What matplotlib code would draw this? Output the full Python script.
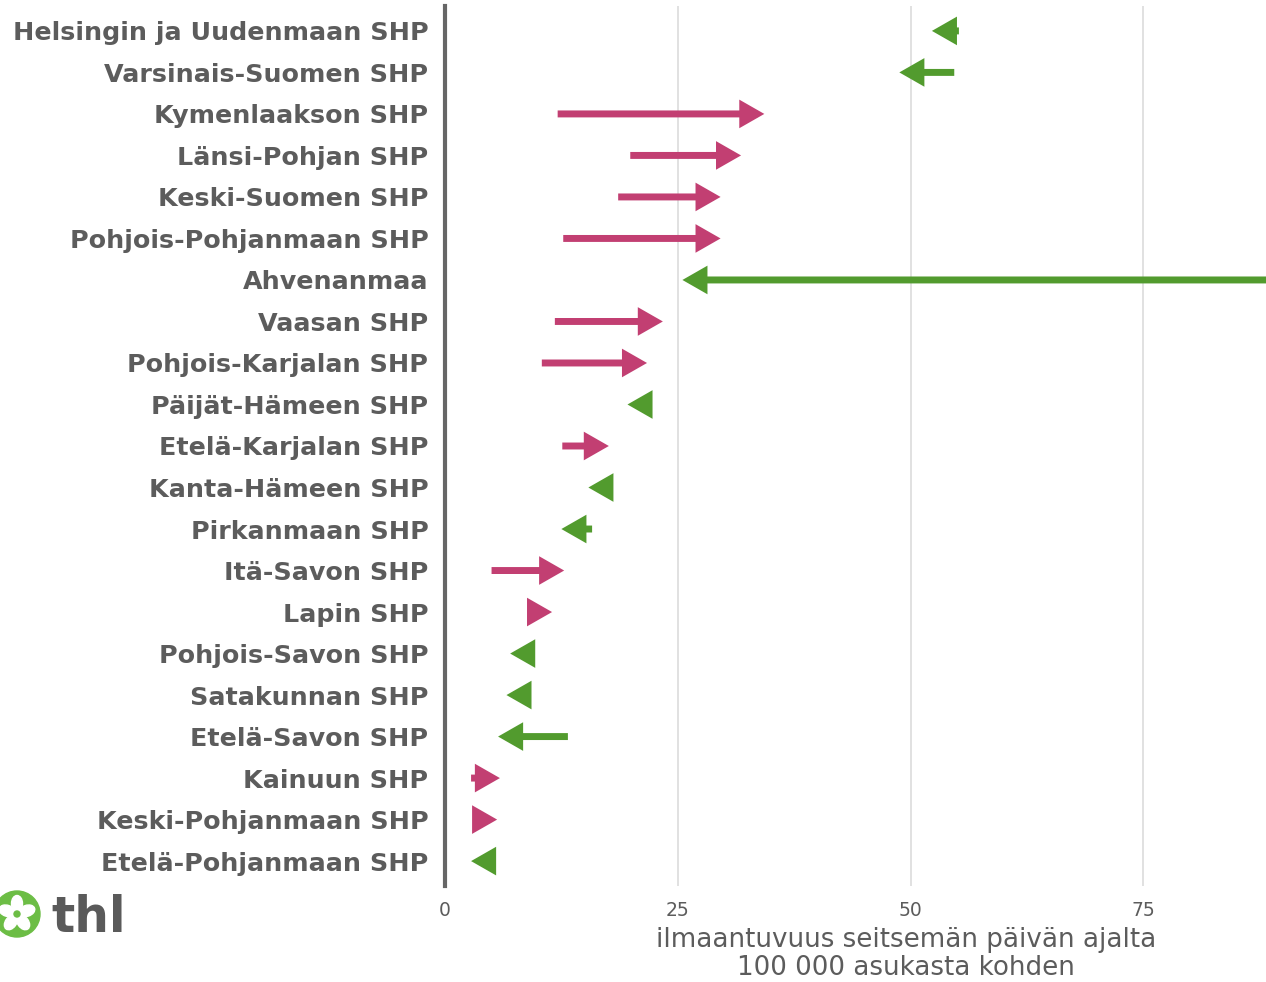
import matplotlib
matplotlib.use("Agg")
import matplotlib.pyplot as plt
from matplotlib.patches import FancyArrowPatch, Circle, Ellipse
import numpy as np

regions = [
    "Helsingin ja Uudenmaan SHP", "Varsinais-Suomen SHP", "Kymenlaakson SHP",
    "Länsi-Pohjan SHP", "Keski-Suomen SHP", "Pohjois-Pohjanmaan SHP",
    "Ahvenanmaa", "Vaasan SHP", "Pohjois-Karjalan SHP", "Päijät-Hämeen SHP",
    "Etelä-Karjalan SHP", "Kanta-Hämeen SHP", "Pirkanmaan SHP", "Itä-Savon SHP",
    "Lapin SHP", "Pohjois-Savon SHP", "Satakunnan SHP", "Etelä-Savon SHP",
    "Kainuun SHP", "Keski-Pohjanmaan SHP", "Etelä-Pohjanmaan SHP",
]
previous_week = [55.2, 54.7, 12.1, 19.9, 18.6, 12.7, 97.0, 11.8, 10.4, 21.8,
                 12.6, 17.6, 15.8, 5.0, 9.3, 9.3, 8.9, 13.2, 2.8, 3.4, 5.1]
current_week = [52.3, 48.8, 34.3, 31.8, 29.6, 29.6, 25.5, 23.4, 21.7, 19.6,
                17.6, 15.4, 12.5, 12.8, 11.5, 7.0, 6.6, 5.7, 5.9, 5.6, 2.8]
x_ticks = [0, 25, 50, 75]
x_title = "ilmaantuvuus seitsemän päivän ajalta\n100 000 asukasta kohden"

PINK = "#c23f72"
GREEN = "#529b2e"
TEXT = "#5c5c5c"

W, H, DPI = 1266, 982, 100
fig = plt.figure(figsize=(W / DPI, H / DPI), dpi=DPI)
ax = fig.add_axes([445 / W, 1 - 886 / H, 922 / W, 880 / H])

n = len(regions)
ax.set_xlim(0, 922 / 9.31)
ax.set_ylim(n - 0.4, -0.6)

for i, (a, b) in enumerate(zip(previous_week, current_week)):
    col = PINK if b > a else GREEN
    arr = FancyArrowPatch((a, i), (b, i),
                          arrowstyle="-|>,head_length=10.5,head_width=6.0",
                          mutation_scale=1, lw=5.0, color=col,
                          shrinkA=0, shrinkB=0, joinstyle="miter",
                          capstyle="butt", zorder=3)
    ax.add_patch(arr)

ax.set_yticks(range(n))
ax.set_yticklabels(regions, fontsize=18.3, fontweight="bold", color=TEXT)
ax.set_xticks(x_ticks)
ax.set_xticklabels([str(t) for t in x_ticks], fontsize=13.5, color=TEXT)
ax.tick_params(axis="both", length=0)
ax.tick_params(axis="y", pad=12)
ax.tick_params(axis="x", pad=11)

ax.grid(axis="x", color="#dcdcdc", lw=1.2)
ax.grid(axis="y", visible=False)
ax.set_axisbelow(True)
for s in ["top", "right", "bottom"]:
    ax.spines[s].set_visible(False)
ax.spines["left"].set_color("#666666")
ax.spines["left"].set_linewidth(3.0)

fig.text(906 / W, 1 - 954 / H, x_title, ha="center", va="center",
         fontsize=18.8, color=TEXT, linespacing=1.1)

# THL logo
lax = fig.add_axes([0, 0, 1, 1], facecolor="none")
lax.set_xlim(0, W)
lax.set_ylim(H, 0)
lax.axis("off")
cx, cy, r = 17, 914, 23
lax.add_patch(Circle((cx, cy), r, color="#6cbd45", zorder=1))
for k in range(5):
    ang = np.deg2rad(-90 + k * 72)
    px, py = cx + 10.5 * np.cos(ang), cy + 10.5 * np.sin(ang)
    lax.add_patch(Ellipse((px, py), 16, 11, angle=np.rad2deg(ang),
                          color="white", zorder=2))
lax.add_patch(Circle((cx, cy), 3, color="#6cbd45", zorder=3))
lax.text(51, 932, "thl", fontsize=35, fontweight="bold", color="#5a5a5a",
         ha="left", va="baseline")

fig.savefig("out.png", dpi=DPI)
